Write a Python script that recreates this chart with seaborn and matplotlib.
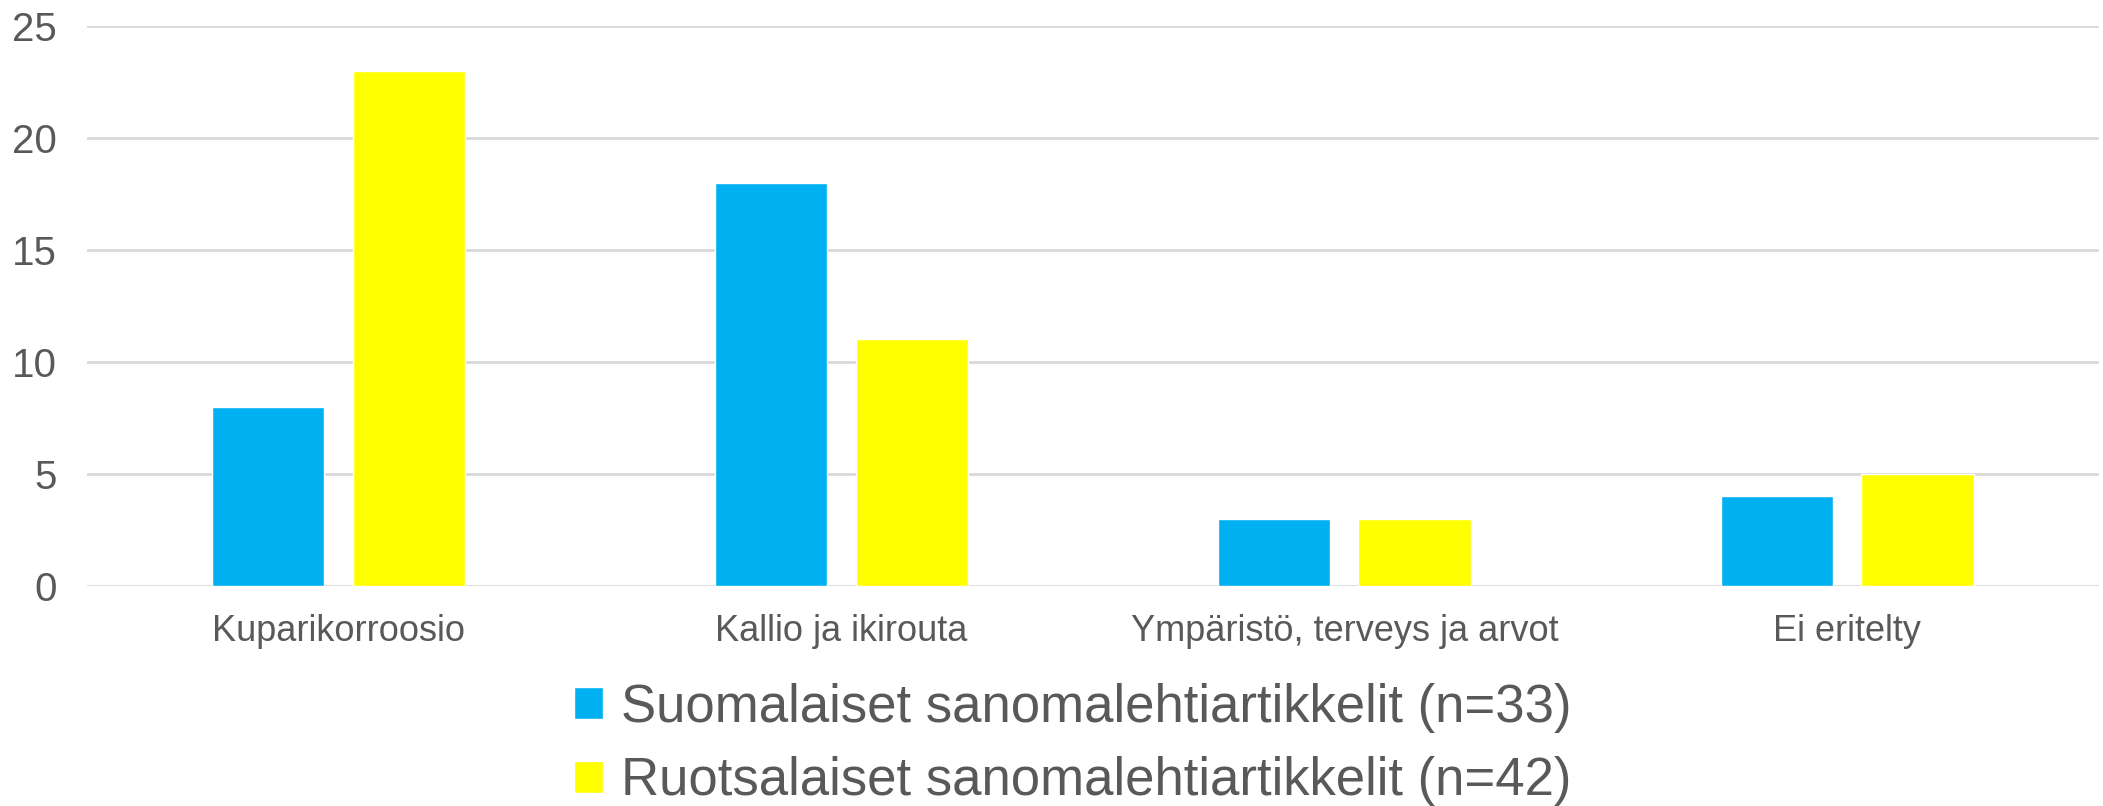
import pandas as pd
import matplotlib.pyplot as plt
import seaborn as sns

# --- DATA ---
categories = ["Kuparikorroosio", "Kallio ja ikirouta", "Ympäristö, terveys ja arvot", "Ei eritelty"]
series_names = ["Suomalaiset sanomalehtiartikkelit (n=33)", "Ruotsalaiset sanomalehtiartikkelit (n=42)"]
finnish = [8, 18, 3, 4]
swedish = [23, 11, 3, 5]
colors = ["#00B0F0", "#FFFF00"]

df = pd.DataFrame({
    "kategoria": categories * 2,
    "sarja": [series_names[0]] * 4 + [series_names[1]] * 4,
    "arvo": finnish + swedish,
})

# --- STYLE ---
sns.set_theme(style="white")
plt.rcParams['font.family'] = ['Liberation Sans', 'DejaVu Sans']
grey = "#595959"

fig = plt.figure(figsize=(21.03, 8.06), dpi=100)
ax = fig.add_axes([0.0414, 0.273, 0.9566, 0.695])

sns.barplot(data=df, x="kategoria", y="arvo", hue="sarja", palette=colors,
            width=0.56, gap=0.2, saturation=1, ax=ax, zorder=3)

ax.set_ylim(0, 25)
ax.set_xlim(-0.5, 3.5)
ax.set_yticks(range(0, 26, 5))
ax.yaxis.grid(True, color="#d9d9d9", linewidth=2, zorder=0)
ax.set_axisbelow(True)
for s in ax.spines.values():
    s.set_visible(False)
ax.tick_params(axis="y", length=0, pad=22, labelsize=29, labelcolor=grey)
ax.tick_params(axis="x", length=0, pad=20, labelsize=26, labelcolor=grey)
ax.set_xlabel("")
ax.set_ylabel("")

ax.legend(loc="upper center", bbox_to_anchor=(0.49, -0.135), ncol=1, frameon=False,
          fontsize=38, labelcolor=grey, handlelength=0.55, handleheight=0.55,
          handletextpad=0.35, labelspacing=0.45, borderaxespad=0)

fig.savefig("out.png", dpi=100)
